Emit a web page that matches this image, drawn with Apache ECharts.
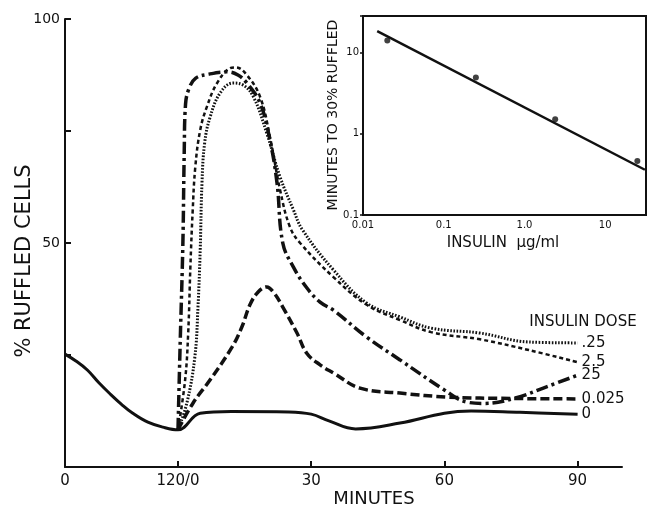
<!DOCTYPE html>
<html><head><meta charset="utf-8">
<script src="https://cdn.jsdelivr.net/npm/echarts@6/dist/echarts.min.js"></script>
<style>html,body{margin:0;padding:0;background:#fff}#c{width:651px;height:510px}</style>
</head><body><div id="c"></div>
<script>
// ---------- main chart data ----------
const doseLabels = ['0', '0.025', '.25', '2.5', '25'];
const xTickValuesMinutes = ['0', '120/0', '30', '60', '90'];
const yTickLabels = [50, 100];

// pre-incubation phase (real minutes, 0..120), control only
const preMinutes = [0, 12, 24, 36, 48, 60, 72, 88, 104, 120];
const preControl = [25.2, 23.6, 21.6, 18.8, 16.3, 14, 12, 10, 8.9, 8.3];

// after insulin addition (minutes)
const minutes0 = [0, 5, 12, 25, 30, 34, 40, 50, 60, 66, 77, 90];
const dose0 = [8.3, 12, 12.4, 12.3, 11.8, 10.3, 8.5, 9.8, 12, 12.5, 12.2, 11.8];

const minutes0025 = [0, 3.4, 7.2, 12.2, 14.4, 16.2, 18, 20, 21.5, 23.6, 26.8, 29, 32, 35, 41, 50, 61, 75, 90];
const dose0025 = [8.3, 14.3, 19.4, 26.8, 31.3, 36.2, 39, 40.2, 39, 35.7, 29.9, 25.4, 22.8, 21, 17.6, 16.5, 15.6, 15.3, 15.2];

const minutes025 = [0, 2, 3.8, 4.5, 5, 5.4, 6, 7.2, 9.5, 12.4, 14.6, 17, 20, 23, 26, 28, 35, 42.5, 50, 57, 68, 79, 90];
const dose025 = [8.3, 14.3, 24.6, 35.7, 48.4, 63.4, 72.3, 78, 83.5, 85.7, 85.3, 82.6, 74.5, 64.7, 57.4, 53, 44, 36.6, 33.5, 31, 29.9, 27.9, 27.7];

const minutes25 = [0, 1.6, 2.3, 2.8, 3.3, 3.9, 5, 6.5, 8.8, 11.7, 13, 15.5, 18.5, 20.7, 23, 25.2, 27.5, 35, 42.5, 50, 57, 68, 79, 90];
const dose25 = [8.3, 19.4, 30, 45, 57, 67, 75.2, 80.4, 85.7, 89, 89.2, 87.5, 82.6, 73.7, 61.8, 53.6, 50, 42.4, 36.2, 32.8, 30.1, 28.5, 26.1, 23.4];

const minutes250 = [0, 0.5, 1.1, 1.4, 1.7, 2.5, 4, 7, 11, 13.5, 15.5, 18.5, 20.7, 22.3, 23.6, 26, 29, 32, 35, 42.5, 50, 60, 65, 69, 76, 83, 90];
const dose250 = [8.3, 28, 50, 70, 81, 84.5, 86.8, 87.7, 88.2, 87.5, 85.7, 81.2, 73, 63.4, 50, 44.6, 40, 36.8, 35, 29, 23.9, 17.2, 14.5, 14.2, 15.4, 17.9, 20.5];

// ---------- inset data ----------
const insetDose = [0.02, 0.25, 2.4, 25];
const insetMinutes = [14, 4.9, 1.5, 0.46];
const fitDose = [0.015, 31];
const fitMinutes = [18.3, 0.36];
const insetXTicks = [0.01, 0.1, 1, 10];
const insetXTickLabels = ['0.01', '0.1', '1.0', '10'];
const insetYTicks = [0.1, 1, 10];
const insetYTickLabels = ['0.1', '1', '10'];

// ---------- axis helpers ----------
const PRE_SPAN = 25.45; // width of the 120-min pre-phase in post-minute units (broken axis)
const preToAxis = t => (t - 120) * PRE_SPAN / 120;
const xTickPositions = [-PRE_SPAN, 0, 30, 60, 90];

function pairs(xs, ys) { return xs.map((x, i) => [x, ys[i]]); }
const controlData = preMinutes.map((t, i) => [preToAxis(t), preControl[i]])
  .concat(pairs(minutes0, dose0).slice(1));

function lookup(v, ticks, labels) {
  for (let i = 0; i < ticks.length; i++) {
    if (Math.abs(v - ticks[i]) <= Math.abs(ticks[i]) * 1e-6 + 1e-9) return labels[i];
  }
  return '';
}

const FONT = 'DejaVu Sans';
const black = '#111';

function lineSeries(label, data, type, width) {
  return {
    type: 'line', name: label, xAxisIndex: 0, yAxisIndex: 0,
    data: data, showSymbol: false, smooth: 0.4,
    lineStyle: { color: black, width: width, type: type, cap: 'butt' },
    endLabel: { show: true, formatter: () => label, color: black, fontSize: 15, fontFamily: FONT, distance: 4 },
    animation: false, z: 3
  };
}

const chart = echarts.init(document.getElementById('c'), null, { renderer: 'canvas' });
chart.setOption({
  backgroundColor: '#fff',
  animation: false,
  textStyle: { fontFamily: FONT, color: black },
  grid: [
    { left: 65, top: 19, right: 29, bottom: 43, show: false },
    { left: 363, top: 16, width: 283, height: 199, show: true, borderColor: black, borderWidth: 2, backgroundColor: '#fff', z: 1 }
  ],
  xAxis: [
    {
      type: 'value', gridIndex: 0, min: -PRE_SPAN, max: 100,
      axisLine: { onZero: false, lineStyle: { color: black, width: 2 } },
      axisTick: { inside: true, length: 6, customValues: xTickPositions, lineStyle: { color: black, width: 2 } },
      axisLabel: { customValues: xTickPositions, formatter: v => lookup(v, xTickPositions, xTickValuesMinutes), color: black, fontSize: 15, margin: 7, fontFamily: FONT },
      splitLine: { show: false }
    },
    {
      type: 'log', logBase: 10, gridIndex: 1, min: 0.01, max: 32,
      axisLine: { onZero: false, lineStyle: { color: black, width: 2 } },
      axisTick: { inside: true, length: 4, lineStyle: { color: black, width: 1.5 } },
      axisLabel: { formatter: v => lookup(v, insetXTicks, insetXTickLabels), color: black, fontSize: 10, margin: 5, fontFamily: FONT },
      splitLine: { show: false }, minorTick: { show: false }
    }
  ],
  yAxis: [
    {
      type: 'value', gridIndex: 0, min: 0, max: 100, interval: 25,
      axisLine: { show: true, onZero: false, lineStyle: { color: black, width: 2 } },
      axisTick: { show: true, inside: true, length: 6, lineStyle: { color: black, width: 2 } },
      axisLabel: { formatter: v => (yTickLabels.indexOf(v) >= 0 ? String(v) : ''), color: black, fontSize: 14, margin: 5, fontFamily: FONT },
      splitLine: { show: false }
    },
    {
      type: 'log', logBase: 10, gridIndex: 1, min: 0.1, max: 28,
      axisLine: { show: true, onZero: false, lineStyle: { color: black, width: 2 } },
      axisTick: { show: true, inside: false, length: 3, lineStyle: { color: black, width: 1.5 } },
      axisLabel: { formatter: v => lookup(v, insetYTicks, insetYTickLabels), color: black, fontSize: 10, margin: 4, fontFamily: FONT },
      splitLine: { show: false }, minorTick: { show: false }
    }
  ],
  graphic: [
    { type: 'text', x: 25, y: 261, rotation: Math.PI / 2, style: { text: '% RUFFLED CELLS', fontSize: 21, fontFamily: FONT, fill: black, align: 'center', verticalAlign: 'middle' } },
    { type: 'text', x: 374, y: 499, style: { text: 'MINUTES', fontSize: 18, fontFamily: FONT, fill: black, align: 'center', verticalAlign: 'middle' } },
    { type: 'text', x: 583, y: 322, style: { text: 'INSULIN DOSE', fontSize: 15, fontFamily: FONT, fill: black, align: 'center', verticalAlign: 'middle' } },
    { type: 'text', x: 503, y: 243, style: { text: 'INSULIN  μg/ml', fontSize: 15, fontFamily: FONT, fill: black, align: 'center', verticalAlign: 'middle' } },
    { type: 'text', x: 333, y: 115, rotation: Math.PI / 2, style: { text: 'MINUTES TO 30% RUFFLED', fontSize: 14, fontFamily: FONT, fill: black, align: 'center', verticalAlign: 'middle' } }
  ],
  series: [
    lineSeries(doseLabels[0], controlData, 'solid', 3),
    lineSeries(doseLabels[1], pairs(minutes0025, dose0025), [9, 4], 3.5),
    lineSeries(doseLabels[2], pairs(minutes025, dose025), [1.6, 1.6], 3),
    lineSeries(doseLabels[3], pairs(minutes25, dose25), [4, 3], 2.5),
    lineSeries(doseLabels[4], pairs(minutes250, dose250), [12, 4, 3, 4], 3.5),
    {
      type: 'line', xAxisIndex: 1, yAxisIndex: 1, data: pairs(fitDose, fitMinutes),
      showSymbol: false, lineStyle: { color: black, width: 2.5 }, z: 4, animation: false
    },
    {
      type: 'scatter', xAxisIndex: 1, yAxisIndex: 1, data: pairs(insetDose, insetMinutes),
      symbol: 'circle', symbolSize: 6, itemStyle: { color: black }, z: 5, animation: false
    }
  ]
});
</script>
</body></html>
